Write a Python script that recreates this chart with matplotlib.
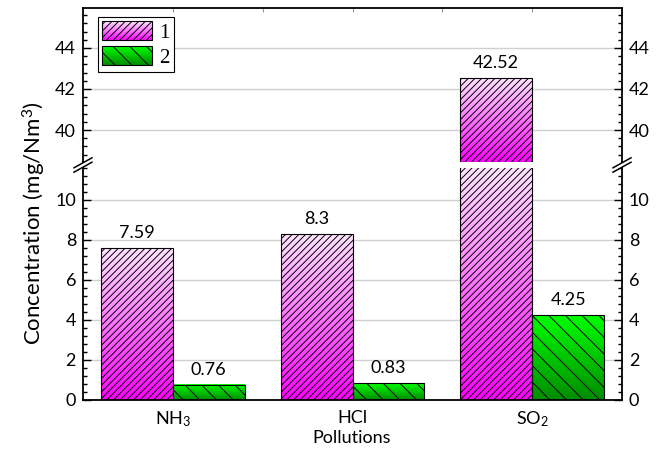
import numpy as np
import matplotlib
matplotlib.use("Agg")
import matplotlib.pyplot as plt
from matplotlib.patches import Rectangle, Polygon
from matplotlib.lines import Line2D
from matplotlib.ticker import AutoMinorLocator, FixedLocator
from matplotlib.legend_handler import HandlerBase
from matplotlib.colors import LinearSegmentedColormap, to_rgb

# DATA
categories = ["NH$_3$", "HCl", "SO$_2$"]
series_names = ["1", "2"]
conc_1 = [7.59, 8.3, 42.52]
conc_2 = [0.76, 0.83, 4.25]
low_ticks = [0, 2, 4, 6, 8, 10]
high_ticks = [40, 42, 44]

# STYLE
plt.rcParams["font.family"] = ["Lato", "DejaVu Sans"]
plt.rcParams["mathtext.fontset"] = "custom"
plt.rcParams["mathtext.rm"] = "Lato"
plt.rcParams["mathtext.it"] = "Lato:italic"
plt.rcParams["font.size"] = 13
plt.rcParams["hatch.linewidth"] = 0.7

PINK = ("#ffe4ff", "#ff00ff")   # top, bottom
GREEN = ("#00ff00", "#008c00")
HATCH_1 = "/////"
HATCH_2 = "\\\\"
LOW_LIM = (0, 11.6)
HIGH_LIM = (38.44, 45.95)
BAR_W = 0.4

W, H = 665, 455
fig = plt.figure(figsize=(W / 100, H / 100), dpi=100)


def fx(px):
    return px / W


def fy(py):
    return 1 - py / H


ax_lo = fig.add_axes([fx(83), fy(400), fx(622) - fx(83), fy(168) - fy(400)])
ax_hi = fig.add_axes([fx(83), fy(162), fx(622) - fx(83), fy(8) - fy(162)])


def make_cmap(colors):
    return LinearSegmentedColormap.from_list("g", [colors[1], colors[0]])


x = np.arange(1, len(categories) + 1)
for ax, lim in ((ax_lo, LOW_LIM), (ax_hi, HIGH_LIM)):
    for i in range(len(categories)):
        for vals, cols, hatch, off in ((conc_1, PINK, HATCH_1, -BAR_W / 2),
                                       (conc_2, GREEN, HATCH_2, BAR_W / 2)):
            v = vals[i]
            if v <= lim[0]:
                continue
            top = min(v, lim[1])
            grad = np.linspace(0, 1, 256).reshape(-1, 1)
            xc = x[i] + off
            ax.imshow(grad, extent=[xc - BAR_W / 2, xc + BAR_W / 2, lim[0], top],
                      origin="lower", aspect="auto", cmap=make_cmap(cols), zorder=2,
                      interpolation="bilinear")
            ax.add_patch(Rectangle((xc - BAR_W / 2, 0), BAR_W, v, fill=False,
                                   hatch=hatch, edgecolor="black", lw=0.8, zorder=3))
            if v <= lim[1]:
                ax.annotate(str(v), (xc, v), xytext=(0, 5), textcoords="offset points",
                            ha="center", va="bottom", fontsize=13, zorder=5)
    ax.set_xlim(0.5, 3.5)
    ax.set_ylim(*lim)
    ax.yaxis.grid(True, color="#d0d0d0", lw=1)
    ax.set_axisbelow(True)
    ax.yaxis.set_minor_locator(AutoMinorLocator(5))
    ax.tick_params(axis="y", which="both", direction="in", left=True, right=True,
                   labelleft=True, labelright=True, width=1, pad=5, labelsize=13)
    ax.tick_params(axis="y", which="major", length=6)
    ax.tick_params(axis="y", which="minor", length=3)
    for s in ax.spines.values():
        s.set_linewidth(1.3)

ax_lo.set_yticks(low_ticks)
ax_lo.spines["top"].set_visible(False)
ax_lo.set_xticks(x)
ax_lo.set_xticklabels(categories)
ax_lo.tick_params(axis="x", length=0, pad=7, labelsize=13)

ax_hi.set_yticks(high_ticks)
ax_hi.spines["bottom"].set_visible(False)
ax_hi.xaxis.set_major_locator(FixedLocator([1, 1.5, 2, 2.5, 3]))
ax_hi.tick_params(axis="x", bottom=False, top=True, labelbottom=False,
                  direction="in", length=3, color="0.6", width=0.8)


# legend with gradient patches
class GradHandler(HandlerBase):
    def __init__(self, colors, hatch):
        super().__init__()
        self.colors = colors
        self.hatch = hatch

    def create_artists(self, legend, orig_handle, xdescent, ydescent, width, height,
                       fontsize, trans):
        top_c = np.array(to_rgb(self.colors[0]))
        bot_c = np.array(to_rgb(self.colors[1]))
        n = 24
        arts = []
        for k in range(n):
            t = k / (n - 1)
            c = bot_c + (top_c - bot_c) * t
            arts.append(Rectangle((-xdescent, -ydescent + k * height / n), width,
                                  height / n * 1.05, facecolor=c, edgecolor="none",
                                  transform=trans))
        arts.append(Rectangle((-xdescent, -ydescent), width, height, fill=False,
                              hatch=self.hatch, edgecolor="black", lw=0.8,
                              transform=trans))
        return arts


h1 = Rectangle((0, 0), 1, 1)
h2 = Rectangle((0, 0), 1, 1)
leg = ax_hi.legend([h1, h2], series_names, loc="upper left",
                   bbox_to_anchor=(0.028, 0.942), borderaxespad=0,
                   handler_map={h1: GradHandler(PINK, HATCH_1), h2: GradHandler(GREEN, HATCH_2)},
                   prop={"family": "Liberation Serif", "size": 15},
                   handlelength=2.4, handleheight=1.05, labelspacing=0.15,
                   handletextpad=0.35, borderpad=0.2, fancybox=False, framealpha=1)
leg.get_frame().set_edgecolor("black")
leg.get_frame().set_linewidth(0.8)

# spines through the gap and break marks
for px in (83, 622):
    fig.add_artist(Line2D([fx(px), fx(px)], [fy(168), fy(162)], color="black", lw=1.3))
    cx, cy = px, 165
    dx, dy, gap = 9, 5, 2.2
    poly = Polygon([(fx(cx - dx), fy(cy + dy + gap)), (fx(cx + dx), fy(cy - dy + gap)),
                    (fx(cx + dx), fy(cy - dy - gap)), (fx(cx - dx), fy(cy + dy - gap))],
                   closed=True, facecolor="white", edgecolor="none", zorder=10)
    fig.add_artist(poly)
    for g in (gap, -gap):
        fig.add_artist(Line2D([fx(cx - dx), fx(cx + dx)], [fy(cy + dy + g), fy(cy - dy + g)],
                              color="black", lw=1.1, zorder=11))

fig.text(fx(34), fy(223), "Concentration (mg/Nm$^3$)", rotation=90,
         ha="center", va="center", fontsize=16)
fig.text(fx(352), fy(438), "Pollutions", ha="center", va="center", fontsize=13)

fig.savefig("out.png", dpi=100)
